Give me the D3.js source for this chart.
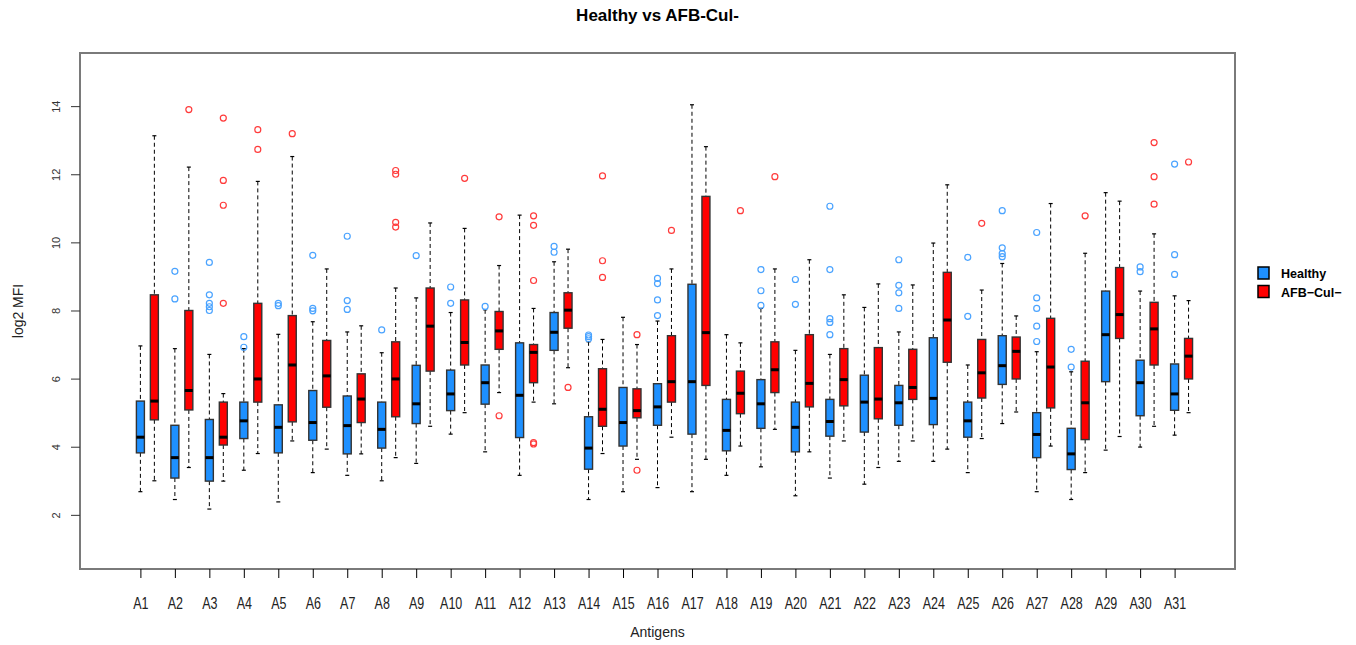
<!DOCTYPE html>
<html>
<head>
<meta charset="utf-8">
<script src="https://cdn.jsdelivr.net/npm/d3@7"></script>
<style>
  body { margin: 0; background: #fff; }
  svg { font-family: "Liberation Sans", Arial, sans-serif; }
</style>
</head>
<body>
<svg id="chart" width="1356" height="645"></svg>
<script>
// antigen names
const antigens = d3.range(1, 32).map(i => "A" + i);

// box stats per antigen: [lower whisker, q1, median, q3, upper whisker]
const healthyBox = [
  [2.68, 3.82, 4.28, 5.34, 6.96], [2.45, 3.08, 3.68, 4.63, 6.88], [2.17, 2.99, 3.68, 4.80, 6.71],
  [3.31, 4.24, 4.76, 5.31, 6.88], [2.38, 3.82, 4.57, 5.23, 7.30], [3.24, 4.19, 4.71, 5.65, 7.67],
  [3.16, 3.79, 4.62, 5.49, 7.37], [3.00, 3.96, 4.51, 5.31, 6.76], [3.51, 4.68, 5.26, 6.39, 8.37],
  [4.37, 5.06, 5.55, 6.25, 7.94], [3.85, 5.25, 5.88, 6.40, 8.02], [3.16, 4.27, 5.51, 7.05, 10.80],
  [5.26, 6.83, 7.36, 7.94, 9.43], [2.45, 3.34, 3.96, 4.88, 7.08], [2.68, 4.02, 4.71, 5.74, 7.80],
  [2.80, 4.63, 5.17, 5.85, 7.69], [2.68, 4.37, 5.91, 8.77, 14.04], [3.16, 3.88, 4.48, 5.39, 7.29],
  [3.41, 4.54, 5.26, 5.97, 8.06], [2.56, 3.85, 4.57, 5.31, 6.83], [3.08, 4.31, 4.74, 5.39, 6.71],
  [2.90, 4.43, 5.31, 6.10, 8.09], [3.57, 4.63, 5.29, 5.80, 7.37], [3.57, 4.65, 5.42, 7.20, 9.98],
  [3.24, 4.28, 4.76, 5.31, 6.40], [4.68, 5.83, 6.38, 7.26, 9.38], [2.68, 3.68, 4.36, 5.00, 6.79],
  [2.45, 3.33, 3.79, 4.54, 6.20], [3.90, 5.91, 7.29, 8.57, 11.46], [3.99, 4.91, 5.88, 6.54, 8.57],
  [4.34, 5.07, 5.55, 6.43, 8.43]
];
const healthyOut = [
  [], [9.15, 8.34], [9.41, 8.46, 8.21, 8.11, 8.00], [7.23, 6.92], [8.21, 8.14], [9.62, 8.06, 7.99],
  [10.18, 8.29, 8.03], [7.43], [9.61], [8.69, 8.21], [8.12], [], [9.88, 9.71], [7.28, 7.23, 7.17],
  [], [8.94, 8.79, 8.31, 7.85], [], [], [9.20, 8.58, 8.15], [8.91, 8.18],
  [11.06, 9.20, 7.76, 7.65, 7.29], [], [9.49, 8.74, 8.52, 8.06], [], [9.56, 7.83],
  [10.93, 9.84, 9.67, 9.58], [10.29, 8.37, 8.06, 7.54, 7.09], [6.86, 6.34], [], [9.28, 9.14],
  [12.30, 9.64, 9.06]
];

const afbBox = [
  [3.00, 4.79, 5.34, 8.46, 13.13], [3.39, 5.08, 5.65, 8.00, 12.21], [2.99, 4.05, 4.28, 5.31, 5.56],
  [3.80, 5.31, 5.99, 8.21, 11.79], [4.17, 4.73, 6.40, 7.85, 12.52], [3.93, 5.16, 6.08, 7.12, 9.22],
  [3.79, 4.71, 5.40, 6.14, 7.55], [3.68, 4.88, 5.99, 7.08, 8.66], [4.60, 6.22, 7.54, 8.66, 10.57],
  [5.00, 6.40, 7.06, 8.31, 10.41], [5.59, 6.86, 7.40, 7.97, 9.32], [5.31, 5.88, 6.77, 7.00, 8.06],
  [6.32, 7.48, 8.01, 8.52, 9.80], [3.80, 4.60, 5.10, 6.29, 7.15], [3.63, 4.85, 5.06, 5.70, 7.00],
  [4.28, 5.31, 5.91, 7.26, 9.22], [3.63, 5.80, 7.35, 11.35, 12.81], [4.02, 4.97, 5.57, 6.22, 7.05],
  [4.51, 5.59, 6.26, 7.08, 9.22], [3.85, 5.17, 5.86, 7.29, 9.49], [4.17, 5.20, 5.97, 6.88, 8.46],
  [3.39, 4.82, 5.40, 6.91, 8.78], [4.17, 5.39, 5.74, 6.86, 8.75], [3.93, 6.48, 7.72, 9.12, 11.69],
  [4.24, 5.43, 6.17, 7.15, 8.60], [5.02, 5.99, 6.80, 7.22, 7.84], [4.02, 5.14, 6.34, 7.77, 11.14],
  [3.24, 4.21, 5.29, 6.51, 9.68], [4.30, 7.18, 7.88, 9.26, 11.21], [4.60, 6.40, 7.46, 8.24, 10.25],
  [5.00, 5.99, 6.66, 7.18, 8.29]
];
const afbOut = [
  [], [13.90], [13.65, 11.82, 11.09, 8.21], [13.31, 12.73], [13.19], [], [],
  [12.11, 12.00, 10.59, 10.45], [], [11.88], [10.75, 4.91], [10.78, 10.50, 8.88, 4.12, 4.08],
  [5.74], [11.95, 9.46, 8.97], [7.29, 3.31], [10.35], [], [10.93], [11.93], [], [], [], [],
  [], [10.56], [], [], [10.78], [], [12.93, 11.93, 11.12], [12.36]
];

const yTicks = [2, 4, 6, 8, 10, 12, 14];
const seriesNames = ["Healthy", "AFB\u2212Cul\u2212"];

const svg = d3.select("#chart");
const pLeft = 80, pRight = 1235, pTop = 53, pBottom = 569;

const x = d3.scaleLinear().domain([1, 31]).range([140.4, 1174.6]);
const y = d3.scaleLinear().domain([0.41, 15.56]).range([pBottom, pTop]);

const series = [
  { box: healthyBox, out: healthyOut, fill: "#1E90FF", outColor: "#4aa3ff", shift: 0 },
  { box: afbBox, out: afbOut, fill: "#FF0000", outColor: "#ff3b3b", shift: 0.405 }
];
const boxW = 8, capW = 4;

series.forEach(s => {
  const g = svg.append("g");
  const grp = g.selectAll("g.bx")
    .data(s.box)
    .enter()
    .append("g")
    .attr("class", "bx")
    .attr("transform", (d, i) => `translate(${x(i + 1 + s.shift)},0)`);

  // whiskers
  grp.append("line").attr("x1", 0).attr("x2", 0)
    .attr("y1", d => y(d[4])).attr("y2", d => y(d[3]))
    .attr("stroke", "#000").attr("stroke-width", 1).attr("stroke-dasharray", "4,3");
  grp.append("line").attr("x1", 0).attr("x2", 0)
    .attr("y1", d => y(d[1])).attr("y2", d => y(d[0]))
    .attr("stroke", "#000").attr("stroke-width", 1).attr("stroke-dasharray", "4,3");
  // staples
  grp.append("line").attr("x1", -capW / 2).attr("x2", capW / 2)
    .attr("y1", d => y(d[4])).attr("y2", d => y(d[4]))
    .attr("stroke", "#000").attr("stroke-width", 1.2);
  grp.append("line").attr("x1", -capW / 2).attr("x2", capW / 2)
    .attr("y1", d => y(d[0])).attr("y2", d => y(d[0]))
    .attr("stroke", "#000").attr("stroke-width", 1.2);
  // box
  grp.append("rect")
    .attr("x", -boxW / 2).attr("width", boxW)
    .attr("y", d => y(d[3])).attr("height", d => y(d[1]) - y(d[3]))
    .attr("fill", s.fill).attr("stroke", "#333").attr("stroke-width", 1.4);
  // median
  grp.append("line").attr("x1", -boxW / 2).attr("x2", boxW / 2)
    .attr("y1", d => y(d[2])).attr("y2", d => y(d[2]))
    .attr("stroke", "#000").attr("stroke-width", 3);

  // outliers
  s.out.forEach((vals, i) => {
    g.selectAll(null)
      .data(vals)
      .enter()
      .append("circle")
      .attr("cx", x(i + 1 + s.shift))
      .attr("cy", v => y(v))
      .attr("r", 3)
      .attr("fill", "none")
      .attr("stroke", s.outColor)
      .attr("stroke-width", 1.2);
  });
});

// frame
svg.append("rect")
  .attr("x", pLeft).attr("y", pTop)
  .attr("width", pRight - pLeft).attr("height", pBottom - pTop)
  .attr("fill", "none").attr("stroke", "#7a7a7a").attr("stroke-width", 2);

// y axis
const yAxis = svg.append("g")
  .attr("transform", `translate(${pLeft},0)`)
  .call(d3.axisLeft(y).tickValues(yTicks).tickSize(9).tickFormat(d3.format("d")));
yAxis.select(".domain").remove();
yAxis.selectAll(".tick line").attr("stroke", "#333");
yAxis.selectAll(".tick text")
  .attr("x", 0).attr("y", -20).attr("dy", null)
  .attr("transform", "rotate(-90)")
  .attr("text-anchor", "middle")
  .attr("font-size", 11)
  .attr("fill", "#333");

// x axis
const xAxis = svg.append("g")
  .attr("transform", `translate(0,${pBottom})`)
  .call(d3.axisBottom(x).tickValues(d3.range(1, 32)).tickSize(9).tickFormat(i => antigens[i - 1]));
xAxis.select(".domain").remove();
xAxis.selectAll(".tick line").attr("stroke", "#000");
xAxis.selectAll(".tick text")
  .attr("y", 0).attr("dy", null)
  .attr("transform", "translate(0,40) scale(0.78,1)")
  .attr("font-size", 16)
  .attr("fill", "#222");

// titles
svg.append("text")
  .attr("x", (pLeft + pRight) / 2).attr("y", 21)
  .attr("text-anchor", "middle")
  .attr("font-weight", "bold").attr("font-size", 17)
  .text("Healthy vs AFB-Cul-");

svg.append("text")
  .attr("x", (pLeft + pRight) / 2).attr("y", 637)
  .attr("text-anchor", "middle")
  .attr("font-size", 14)
  .attr("fill", "#222")
  .text("Antigens");

svg.append("text")
  .attr("transform", `translate(23,${(pTop + pBottom) / 2}) rotate(-90)`)
  .attr("text-anchor", "middle")
  .attr("font-size", 14)
  .attr("fill", "#222")
  .text("log2 MFI");

// legend
const legend = svg.append("g").attr("transform", "translate(1258,267)");
seriesNames.forEach((name, i) => {
  legend.append("rect")
    .attr("x", 0).attr("y", i * 18.5)
    .attr("width", 11).attr("height", 12)
    .attr("fill", series[i].fill).attr("stroke", "#000").attr("stroke-width", 1.5);
  legend.append("text")
    .attr("x", 23).attr("y", i * 18.5 + 11)
    .attr("font-weight", "bold").attr("font-size", 12.5)
    .text(name);
});
</script>
</body>
</html>
